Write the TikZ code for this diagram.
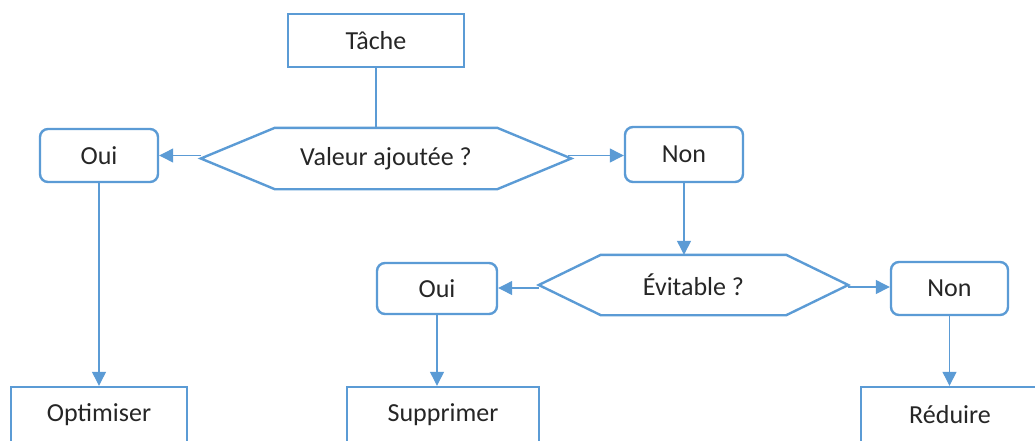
\documentclass[tikz,border=0pt]{standalone}
\usepackage{fontspec}
\setmainfont{Carlito}
\usetikzlibrary{arrows.meta,calc}
\definecolor{lineblue}{HTML}{5B9BD5}
\definecolor{txt}{HTML}{262626}
\tikzset{
  box/.style={draw=lineblue, line width=2.4pt, fill=white, inner sep=0pt, text=txt,
    font=\fontsize{26}{31}\selectfont},
  rbox/.style={box, rounded corners=8pt},
  hexlabel/.style={inner sep=0pt, text=txt, font=\fontsize{26}{31}\selectfont},
  hexline/.style={draw=lineblue, line width=2.4pt, line join=miter},
  conn/.style={draw=lineblue, line width=1.2pt},
  arr/.style={conn, -{Triangle[length=14pt,width=14pt]}},
}
\begin{document}
\begin{tikzpicture}[x=1pt,y=-1pt]
\useasboundingbox (0,0) rectangle (1035,440);
% top task
\node[box, minimum width=176pt, minimum height=53pt] (tache) at (376,40.5) {Tâche};
% first decision
\node[hexlabel, minimum width=370pt, minimum height=61pt] (hex1) at (386,158.5) {Valeur ajoutée ?};
\draw[hexline] (hex1.west) -- ($(hex1.north west)+(74,0)$) -- ($(hex1.north east)+(-74,0)$)
  -- (hex1.east) -- ($(hex1.south east)+(-74,0)$) -- ($(hex1.south west)+(74,0)$) -- cycle;
\node[rbox, minimum width=118pt, minimum height=53pt] (oui1) at (99,155.5) {Oui};
\node[rbox, minimum width=118pt, minimum height=55pt] (non1) at (684,154.5) {Non};
% second decision
\node[hexlabel, minimum width=309pt, minimum height=60pt] (hex2) at (693.5,285) {Évitable ?};
\draw[hexline] (hex2.west) -- ($(hex2.north west)+(62,0)$) -- ($(hex2.north east)+(-62,0)$)
  -- (hex2.east) -- ($(hex2.south east)+(-62,0)$) -- ($(hex2.south west)+(62,0)$) -- cycle;
\node[rbox, minimum width=120pt, minimum height=51pt] (oui2) at (437,288.5) {Oui};
\node[rbox, minimum width=117pt, minimum height=53pt] (non2) at (949.5,288.5) {Non};
% results
\node[box, minimum width=176pt, minimum height=55pt] (opt) at (99,414.5) {Optimiser};
\node[box, minimum width=192pt, minimum height=55pt] (sup) at (443,414.5) {Supprimer};
\node[box, minimum width=178pt, minimum height=55pt] (red) at (950,414.5) {Réduire};
% connectors
\draw[conn] (tache.south) -- (tache.south |- hex1.north);
\coordinate (h1l) at ($(hex1.west)+(0,-3)$);
\coordinate (h1r) at ($(hex1.east)+(-3,-3)$);
\draw[arr] (h1l) -- (h1l -| oui1.east);
\draw[arr] (h1r) -- (h1r -| non1.west);
\draw[arr] (non1.south) -- (non1.south |- hex2.north);
\coordinate (h2l) at ($(hex2.west)+(0,3)$);
\coordinate (h2r) at ($(hex2.east)+(0,2)$);
\draw[arr] (h2l) -- (h2l -| oui2.east);
\draw[arr] (h2r) -- (h2r -| non2.west);
\draw[arr] (oui1.south) -- (oui1.south |- opt.north);
\draw[arr] (oui2.south) -- (oui2.south |- sup.north);
\draw[arr] (non2.south) -- (non2.south |- red.north);
\end{tikzpicture}
\end{document}
